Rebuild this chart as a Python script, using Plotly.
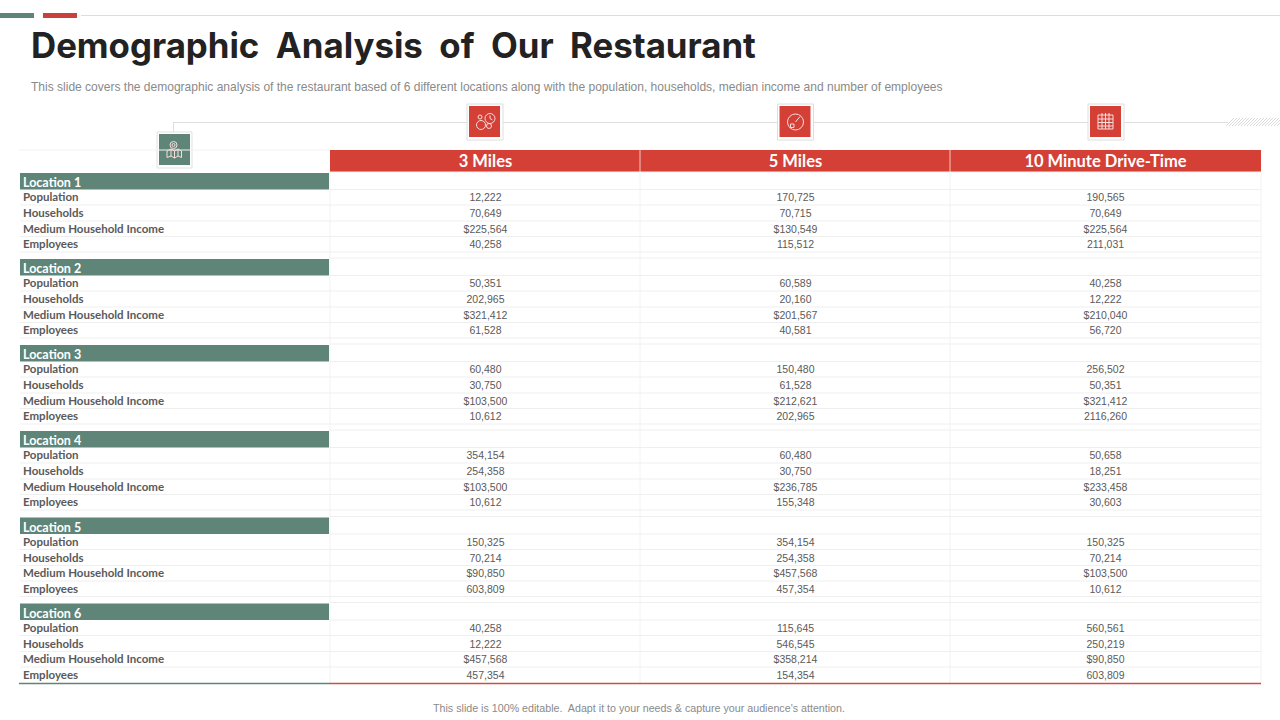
import plotly.graph_objects as go

# Table content
columns = ["3 Miles", "5 Miles", "10 Minute Drive-Time"]
locations = ["Location 1", "Location 2", "Location 3", "Location 4", "Location 5", "Location 6"]
metrics = ["Population", "Households", "Medium Household Income", "Employees"]

miles_3 = ["12,222", "70,649", "$225,564", "40,258",
           "50,351", "202,965", "$321,412", "61,528",
           "60,480", "30,750", "$103,500", "10,612",
           "354,154", "254,358", "$103,500", "10,612",
           "150,325", "70,214", "$90,850", "603,809",
           "40,258", "12,222", "$457,568", "457,354"]
miles_5 = ["170,725", "70,715", "$130,549", "115,512",
           "60,589", "20,160", "$201,567", "40,581",
           "150,480", "61,528", "$212,621", "202,965",
           "60,480", "30,750", "$236,785", "155,348",
           "354,154", "254,358", "$457,568", "457,354",
           "115,645", "546,545", "$358,214", "154,354"]
drive_10 = ["190,565", "70,649", "$225,564", "211,031",
            "40,258", "12,222", "$210,040", "56,720",
            "256,502", "50,351", "$321,412", "2116,260",
            "50,658", "18,251", "$233,458", "30,603",
            "150,325", "70,214", "$103,500", "10,612",
            "560,561", "250,219", "$90,850", "603,809"]

GREEN = "#5f8579"
RED = "#d43f36"
GRID = "#efefef"
TEXT = "#5a5a5a"

# Layout of the table, in slide pixels
col_edges = [330, 640, 950, 1261]
col_centers = [485.5, 795.5, 1105.5]
block_tops = [173, 259, 345, 431, 517.5, 603.5]
row_offsets = [24, 40, 55.5, 71]


def rect(x0, y0, x1, y1, fill, line=None):
    return dict(type="rect", x0=x0, y0=y0, x1=x1, y1=y1, fillcolor=fill, layer="below",
                line=dict(color=line or fill, width=1 if line else 0))


def hline(x0, x1, y, color=GRID, width=1):
    return dict(type="line", x0=x0, x1=x1, y0=y, y1=y, layer="below", line=dict(color=color, width=width))


def vline(x, y0, y1, color=GRID, width=1):
    return dict(type="line", x0=x, x1=x, y0=y0, y1=y1, layer="below", line=dict(color=color, width=width))


def icon(path):
    return dict(type="path", path=path, line=dict(color="#f6dedc", width=1))


def ring(cx, cy, r):
    return dict(type="circle", x0=cx - r, x1=cx + r, y0=cy - r, y1=cy + r, line=dict(color="#f6dedc", width=1))


shapes = []

# Top decoration
shapes += [rect(0, 13, 34, 18, GREEN), rect(43, 13, 77, 18, "#c9403c"), hline(81, 1280, 15.5, "#dddddd")]

# Connector between the icons and the hatch on the right
shapes += [hline(173, 1228, 122.5, "#dedede"), vline(173.5, 122, 132, "#dedede")]
for hatch_x in range(1226, 1280, 3):
    shapes.append(dict(type="line", x0=hatch_x, x1=hatch_x + 8, y0=126, y1=118, layer="below",
                       line=dict(color="#d9d9d9", width=1)))

# Icon boxes
shapes += [rect(157, 132, 192, 168, "#ffffff", "#dfe3e2"), rect(159, 134, 190, 165, GREEN)]
for box_x in [467, 777.5, 1088]:
    shapes += [rect(box_x, 104, box_x + 36, 140, "#ffffff", "#dedede"),
               rect(box_x + 2, 106, box_x + 33, 137, RED)]

# Header band
shapes.append(rect(330, 150, 1261, 172, RED))
shapes += [vline(x, 150, 172, "#f3c6c2") for x in col_edges[1:3]]
shapes.append(hline(19, 330, 150, "#f2f2f2"))

# Location bands and row separators
for top in block_tops:
    shapes.append(rect(20, top, 329, top + 16.5, GREEN))
    shapes.append(hline(330, 1261, top + 16.5))
    for offset in row_offsets[:-1]:
        shapes.append(hline(20, 1261, top + offset + 8))
    if top != block_tops[-1]:
        shapes.append(hline(20, 1261, top + row_offsets[-1] + 8))
    shapes.append(hline(330, 1261, top - 1))

# Column separators and closing rule
shapes += [vline(x, 172, 683, "#f2f2f2") for x in col_edges]
shapes += [hline(19, 330, 683.5, GREEN, 1.5), hline(330, 1261, 683.5, "#cf4f45", 1.5)]

# Small line icons
shapes += [
    icon("M167,151 L171,149 L174.5,151 L178,149 L181.5,151 L181.5,157.5 L178,156 L174.5,158 L171,156 L167,157.5 Z"),
    icon("M174.5,151 L174.5,158 M171,149 L171,156 M178,149 L178,156"),
    ring(173.5, 145, 3.5), ring(173.5, 145, 1.5),
    ring(490, 118.5, 5), ring(481, 125, 4.5), ring(489, 126, 2.5), ring(480, 117, 2),
    icon("M490,115.5 L490,118.5 L492.5,120"),
    ring(795.5, 122, 8),
    icon("M795.5,122 L800,116.5 M790.5,124 L794,124 L794,127.5 L790.5,127.5 Z"),
    icon("M1098,115 L1113,115 L1113,129 L1098,129 Z"),
    icon("M1098,119 L1113,119 M1098,122.5 L1113,122.5 M1098,126 L1113,126"),
    icon("M1102,113 L1102,129 M1105.5,113 L1105.5,129 M1109,113 L1109,129"),
]

fig = go.Figure()

# Location names
fig.add_trace(go.Scatter(x=[23] * len(locations), y=[top + 11 for top in block_tops], text=locations,
                         mode="text", textposition="middle right",
                         textfont=dict(family="Lato", size=12.5, color="#ffffff", weight="bold")))

# Row labels and values, four rows per location
row_y = [top + offset + 1.5 for top in block_tops for offset in row_offsets]
fig.add_trace(go.Scatter(x=[23] * len(row_y), y=row_y, text=metrics * len(locations),
                         mode="text", textposition="middle right",
                         textfont=dict(family="Lato", size=11.5, color=TEXT, weight="bold")))
for center, values in zip(col_centers, [miles_3, miles_5, drive_10]):
    fig.add_trace(go.Scatter(x=[center] * len(values), y=row_y, text=values,
                             mode="text", textposition="middle center",
                             textfont=dict(family="Liberation Sans", size=10.5, color=TEXT)))

# Column headers
fig.add_trace(go.Scatter(x=col_centers, y=[163] * len(columns), text=columns,
                         mode="text", textposition="middle center",
                         textfont=dict(family="Lato", size=16.5, color="#ffffff", weight="bold")))

fig.update_layout(
    width=1280, height=720,
    margin=dict(l=0, r=0, t=0, b=0),
    paper_bgcolor="#ffffff", plot_bgcolor="#ffffff",
    showlegend=False,
    shapes=shapes,
    title=dict(text="Demographic  Analysis  of  Our  Restaurant", x=31 / 1280, xanchor="left",
               y=1 - 46 / 720, yanchor="middle",
               font=dict(family="Inter", size=34.8, color="#222222", weight="bold")),
    xaxis=dict(range=[0, 1280], visible=False, fixedrange=True),
    yaxis=dict(range=[720, 0], visible=False, fixedrange=True),
    annotations=[
        dict(text="This slide covers the demographic analysis of the restaurant based of 6 different locations "
                  "along with the population, households, median income and number of employees",
             x=28.5, y=86.5, xref="x", yref="y", xanchor="left", showarrow=False,
             font=dict(family="Liberation Sans", size=12.03, color="#8a8a8a")),
        dict(text="This slide is 100% editable.  Adapt it to your needs &amp; capture your audience's attention.",
             x=639, y=708, xref="x", yref="y", showarrow=False,
             font=dict(family="Liberation Sans", size=10.7, color="#8a8a8a")),
    ],
)

# Page margin would push the slide off the window
fig.write_html("out.html", config={"displayModeBar": False},
               post_script="document.body.style.margin = '0';")
